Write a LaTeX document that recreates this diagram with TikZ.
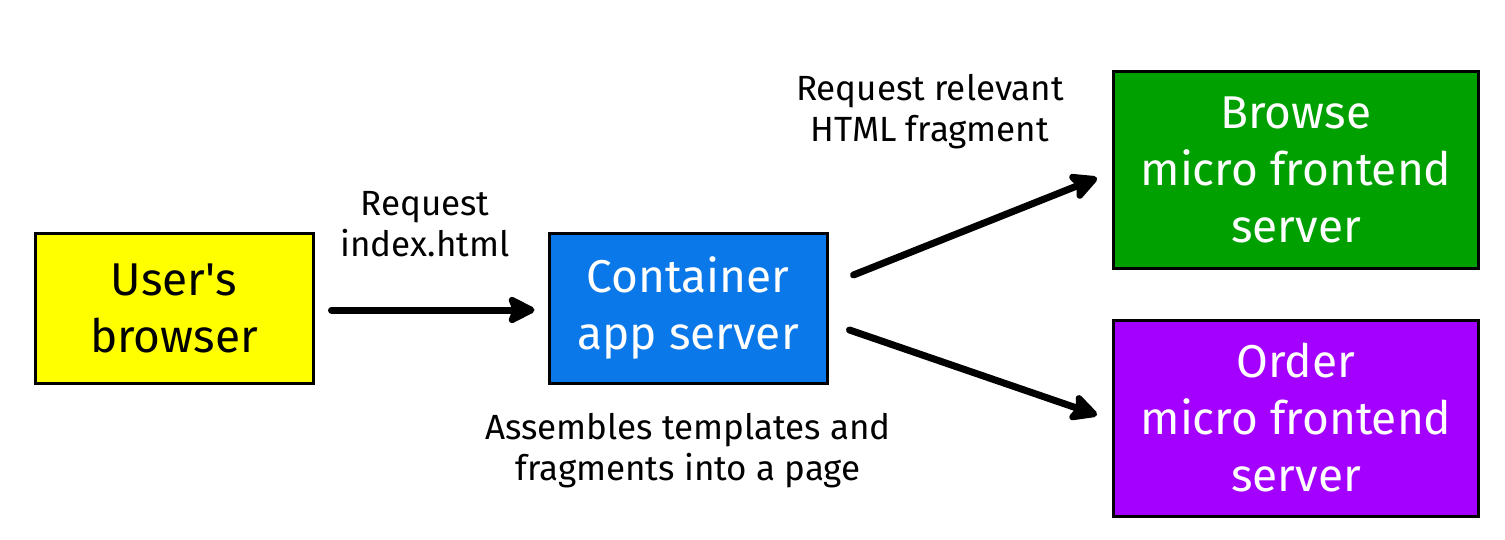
\documentclass[tikz,border=0pt]{standalone}
\usepackage{fontspec}
\setmainfont{Fira Sans}
\usetikzlibrary{arrows.meta}
\definecolor{boxyellow}{HTML}{FFFF00}
\definecolor{boxblue}{HTML}{0A78E8}
\definecolor{boxgreen}{HTML}{00A000}
\definecolor{boxpurple}{HTML}{A400FF}

\begin{document}
\begin{tikzpicture}[x=0.5pt, y=-0.5pt,
    box/.style={draw=black, line width=1.5pt, align=center, inner sep=0pt,
        font=\fontsize{23}{28.5}\selectfont},
    small/.style={box, minimum width=139pt, minimum height=75pt},
    big/.style={box, minimum width=182.5pt, minimum height=98pt, text=white},
    note/.style={align=center, font=\fontsize{17.5}{20.5}\selectfont},
    flow/.style={line width=3.5pt, line cap=round,
        -{Stealth[length=16pt, width=16pt, inset=3pt, round]}}]
    \useasboundingbox (0,0) rectangle (1505,540);
    \node[small, fill=boxyellow] (user) at (174,308) {User\textquotesingle s\\browser};
    \node[small, fill=boxblue, text=white] (cont) at (688,308) {Container\\app server};
    \node[big, fill=boxgreen] (browse) at (1296,170) {Browse\\micro frontend\\server};
    \node[big, fill=boxpurple] (order) at (1296,418) {Order\\micro frontend\\server};
    \node[note] (lreq) at (425,224) {Request\\index.html};
    \node[note] (lfrag) at (930,112) {Request relevant\\HTML fragment};
    \node[note] (lasm) at (688,451) {Assembles templates and\\fragments into a page};
    \draw[flow] ([shift={(17,2)}]user.east) -- ([shift={(-13,2)}]cont.west);
    \draw[flow] ([shift={(25,-33)}]cont.east) -- ([shift={(-15,8)}]browse.west);
    \draw[flow] ([shift={(21,22)}]cont.east) -- ([shift={(-15,-3)}]order.west);
\end{tikzpicture}
\end{document}
